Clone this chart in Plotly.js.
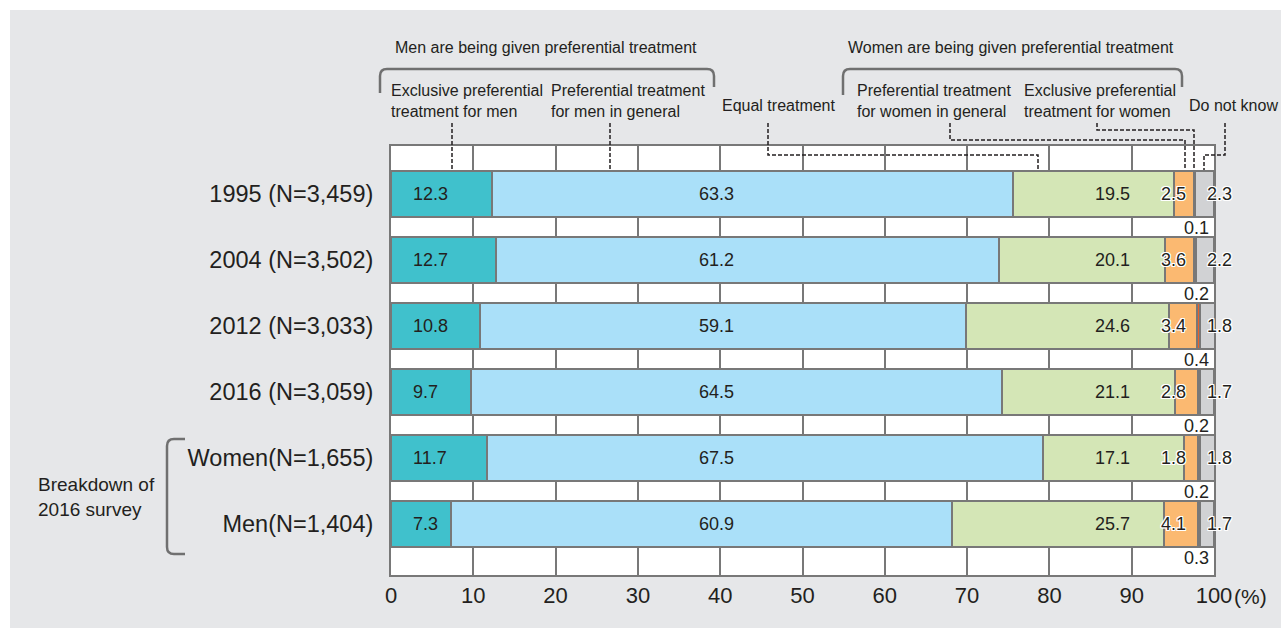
<!DOCTYPE html>
<html>
<head>
<meta charset="utf-8">
<script src="https://cdn.plot.ly/plotly-3.0.1.min.js"></script>
<style>
html,body{margin:0;padding:0;background:#ffffff;}
#chart{position:absolute;left:10px;top:10px;width:1271px;height:618px;}
</style>
</head>
<body>
<div id="chart"></div>
<script>
// ---- data ----
const categories = ['1995 (N=3,459)','2004 (N=3,502)','2012 (N=3,033)','2016 (N=3,059)','Women(N=1,655)','Men(N=1,404)'];
const exclusiveMen   = [12.3, 12.7, 10.8, 9.7, 11.7, 7.3];
const generalMen     = [63.3, 61.2, 59.1, 64.5, 67.5, 60.9];
const equalTreatment = [19.5, 20.1, 24.6, 21.1, 17.1, 25.7];
const generalWomen   = [2.5, 3.6, 3.4, 2.8, 1.8, 4.1];
const exclusiveWomen = [0.1, 0.2, 0.4, 0.2, 0.2, 0.3];
const doNotKnow      = [2.3, 2.2, 1.8, 1.7, 1.8, 1.7];
const seriesNames = ['Exclusive preferential treatment for men','Preferential treatment for men in general','Equal treatment','Preferential treatment for women in general','Exclusive preferential treatment for women','Do not know'];
const xTicks = [0,10,20,30,40,50,60,70,80,90,100];

// ---- style ----
const FONT = 'Liberation Sans, Arial, sans-serif';
const TXT = '#231f20';
const EDGE = '#787878';
const colors = ['#40c1cc','#aae0f9','#d4e6b6','#fbb971','#e8602c','#d1d2d4'];
const allSeries = [exclusiveMen, generalMen, equalTreatment, generalWomen, exclusiveWomen, doNotKnow];

// plot area in page pixels (for decorations)
const PL = 391, PR = 1214, PT = 146, PB = 575;
const fx = x => (x - PL) / (PR - PL);
const fy = y => (PB - y) / (PB - PT);

const traces = allSeries.map((vals, i) => ({
  type: 'bar', orientation: 'h', name: seriesNames[i],
  y: categories, x: vals, width: 0.705,
  marker: {color: colors[i], line: {color: EDGE, width: 2}},
  hoverinfo: 'skip'
}));

const halo = '1px 1px 0 #fff, -1px -1px 0 #fff, 1px -1px 0 #fff, -1px 1px 0 #fff, 0 1px 0 #fff, 0 -1px 0 #fff, 1px 0 0 #fff, -1px 0 0 #fff';
const annotations = [];
const valFont = {family: FONT, size: 18, color: TXT};
categories.forEach((c, i) => {
  annotations.push({xref:'paper', yref:'y', x: 0.024, y: i, text: exclusiveMen[i].toFixed(1), showarrow:false, xanchor:'left', yanchor:'middle', font: valFont});
  annotations.push({xref:'paper', yref:'y', x: 0.3955, y: i, text: generalMen[i].toFixed(1), showarrow:false, xanchor:'center', yanchor:'middle', font: valFont});
  annotations.push({xref:'paper', yref:'y', x: 0.877, y: i, text: equalTreatment[i].toFixed(1), showarrow:false, xanchor:'center', yanchor:'middle', font: valFont});
  annotations.push({xref:'paper', yref:'y', x: 0.9685, y: i, text: generalWomen[i].toFixed(1), showarrow:false, xanchor:'right', yanchor:'middle', font: Object.assign({shadow: halo}, valFont)});
  annotations.push({xref:'paper', yref:'y', x: 0.9885, y: i, text: doNotKnow[i].toFixed(1), showarrow:false, xanchor:'left', yanchor:'middle', font: Object.assign({shadow: halo}, valFont)});
  annotations.push({xref:'paper', yref:'y', x: 0.996, y: i + 0.52, text: exclusiveWomen[i].toFixed(1), showarrow:false, xanchor:'right', yanchor:'middle', font: valFont});
});

const hdr = {family: FONT, size: 16, color: TXT};
function pa(x, y, text, xanchor, font, align) {
  annotations.push({xref:'paper', yref:'paper', x: fx(x), y: fy(y), text, showarrow:false, xanchor, yanchor:'middle', align: align || 'left', font});
}
pa(546, 48, 'Men are being given preferential treatment', 'center', hdr);
pa(1011, 48, 'Women are being given preferential treatment', 'center', hdr);
pa(389, 101, 'Exclusive preferential<br>treatment for men', 'left', hdr);
pa(549, 101, 'Preferential treatment<br>for men in general', 'left', hdr);
pa(720, 105, 'Equal treatment', 'left', hdr);
pa(855, 101, 'Preferential treatment<br>for women in general', 'left', hdr);
pa(1022, 101, 'Exclusive preferential<br>treatment for women', 'left', hdr);
pa(1187, 105, 'Do not know', 'left', hdr);
pa(1250, 596, '(%)', 'center', {family: FONT, size: 21, color: TXT});
pa(36, 497, 'Breakdown of<br>2016 survey', 'left', {family: FONT, size: 19, color: TXT});

// ---- decorations (paths given in page pixels, converted to paper units) ----
function path(cmds) {
  return cmds.map(c => {
    const op = c[0];
    const nums = c.slice(1);
    const out = [];
    if (op === 'H') return 'H' + fx(nums[0]);
    if (op === 'V') return 'V' + fy(nums[0]);
    for (let k = 0; k < nums.length; k += 2) out.push(fx(nums[k]) + ',' + fy(nums[k+1]));
    return op + out.join(' ');
  }).join(' ');
}
const shapes = [];
const dotLine = {color: TXT, width: 1.5, dash: '4px,2px'};
const leaders = [
  [['M',452,123],['V',170]],
  [['M',610,123],['V',170]],
  [['M',768,123],['V',155],['H',1038],['V',170]],
  [['M',950,123],['V',140],['H',1185],['V',170]],
  [['M',1097,123],['V',130],['H',1194],['V',170]],
  [['M',1225,123],['V',155],['H',1204],['V',170]]
];
leaders.forEach(p => shapes.push({type:'path', xref:'paper', yref:'paper', path: path(p), line: dotLine, layer:'above'}));
const brk = {color: '#707070', width: 2.5};
shapes.push({type:'path', xref:'paper', yref:'paper', line: brk,
  path: path([['M',380,93],['V',76],['Q',380,69,387,69],['H',707],['Q',714,69,714,76],['V',87]])});
shapes.push({type:'path', xref:'paper', yref:'paper', line: brk,
  path: path([['M',843,95],['V',76],['Q',843,69,850,69],['H',1175],['Q',1182,69,1182,76],['V',87]])});
shapes.push({type:'path', xref:'paper', yref:'paper', line: brk,
  path: path([['M',185,439],['H',174],['Q',167,439,167,446],['V',547],['Q',167,554,174,554],['H',185]])});

const layout = {
  width: 1271, height: 618,
  margin: {l: 381, r: 67, t: 136, b: 53},
  paper_bgcolor: '#e6e7e9', plot_bgcolor: '#ffffff',
  barmode: 'stack', showlegend: false, hovermode: false,
  xaxis: {
    range: [0, 100], tickvals: xTicks, ticktext: xTicks.map(String),
    showgrid: true, gridcolor: EDGE, gridwidth: 2, zeroline: false,
    showline: true, mirror: true, linecolor: EDGE, linewidth: 2,
    ticks: '', ticklabelstandoff: 0,
    tickfont: {family: FONT, size: 22, color: TXT}, fixedrange: true
  },
  yaxis: {
    type: 'category', range: [5.773, -0.727],
    showgrid: false, zeroline: false,
    showline: true, mirror: true, linecolor: EDGE, linewidth: 2,
    ticks: '', ticklabelstandoff: 11,
    tickfont: {family: FONT, size: 23.5, color: TXT}, fixedrange: true
  },
  annotations, shapes,
  font: {family: FONT, color: TXT}
};
Plotly.newPlot('chart', traces, layout, {displayModeBar: false, staticPlot: true});
</script>
</body>
</html>
